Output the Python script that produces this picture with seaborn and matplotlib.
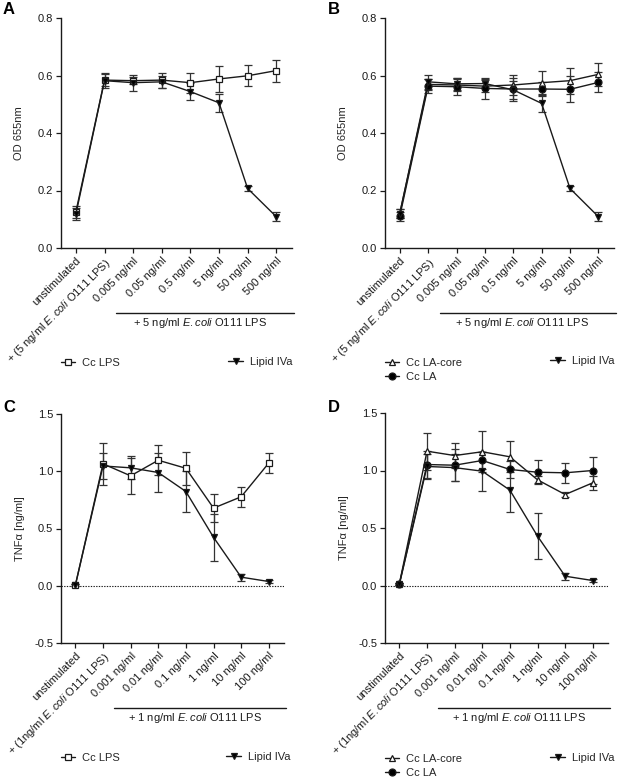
import matplotlib
matplotlib.use('Agg')

import numpy as np
import pandas as pd
import matplotlib.pyplot as plt
import seaborn as sns
from matplotlib.lines import Line2D

sns.set_theme(style='ticks')
plt.rcParams['font.family'] = ['Liberation Sans', 'DejaVu Sans']
plt.rcParams['mathtext.fontset'] = 'custom'
plt.rcParams['mathtext.rm'] = 'Liberation Sans'
plt.rcParams['mathtext.it'] = 'Liberation Sans:italic'

# x categories
labels_top = ['unstimulated', '+ (5 ng/ml $\\it{E.coli}$ O111 LPS)', '0.005 ng/ml', '0.05 ng/ml',
              '0.5 ng/ml', '5 ng/ml', '50 ng/ml', '500 ng/ml']
labels_bottom = ['unstimulated', '+ (1ng/ml $\\it{E.coli}$ O111 LPS)', '0.001 ng/ml', '0.01 ng/ml',
                 '0.1 ng/ml', '1 ng/ml', '10 ng/ml', '100 ng/ml']

# panel A - OD 655nm
cc_lps_od = [0.126, 0.584, 0.582, 0.584, 0.575, 0.588, 0.599, 0.617]
cc_lps_od_err = [0.02, 0.02, 0.012, 0.026, 0.035, 0.045, 0.037, 0.038]
lipid_od = [0.118, 0.582, 0.575, 0.578, 0.544, 0.505, 0.207, 0.109]
lipid_od_err = [0.02, 0.025, 0.028, 0.02, 0.03, 0.032, 0.01, 0.015]

# panel B - OD 655nm
la_core_od = [0.12, 0.569, 0.567, 0.563, 0.567, 0.575, 0.582, 0.604]
la_core_od_err = [0.015, 0.02, 0.02, 0.02, 0.035, 0.04, 0.045, 0.04]
la_od = [0.11, 0.563, 0.561, 0.555, 0.553, 0.553, 0.552, 0.576]
la_od_err = [0.015, 0.025, 0.03, 0.035, 0.04, 0.025, 0.045, 0.035]
lipid_od_b = [0.12, 0.578, 0.571, 0.572, 0.55, 0.503, 0.207, 0.109]
lipid_od_b_err = [0.015, 0.025, 0.02, 0.015, 0.03, 0.03, 0.01, 0.015]

# panel C - TNFa
cc_lps_tnf = [0.005, 1.065, 0.96, 1.096, 1.026, 0.678, 0.777, 1.072]
cc_lps_tnf_err = [0.01, 0.185, 0.16, 0.13, 0.145, 0.12, 0.087, 0.09]
lipid_tnf = [0.005, 1.046, 1.03, 0.989, 0.823, 0.423, 0.075, 0.037]
lipid_tnf_err = [0.01, 0.11, 0.1, 0.17, 0.18, 0.205, 0.03, 0.01]

# panel D - TNFa
la_core_tnf = [0.015, 1.168, 1.13, 1.163, 1.119, 0.919, 0.791, 0.893]
la_core_tnf_err = [0.01, 0.16, 0.11, 0.18, 0.135, 0.03, 0.02, 0.06]
la_tnf = [0.015, 1.052, 1.046, 1.087, 1.009, 0.985, 0.98, 1.0]
la_tnf_err = [0.01, 0.12, 0.14, 0.07, 0.07, 0.105, 0.085, 0.12]
lipid_tnf_d = [0.01, 1.035, 1.025, 0.994, 0.829, 0.429, 0.081, 0.043]
lipid_tnf_d_err = [0.01, 0.11, 0.12, 0.17, 0.19, 0.2, 0.03, 0.01]

STYLES = {
    'Cc LPS': dict(marker='s', markerfacecolor='white', markersize=5),
    'Cc LA-core': dict(marker='^', markerfacecolor='white', markersize=5),
    'Cc LA': dict(marker='o', markerfacecolor='black', markersize=5),
    'Lipid IVa': dict(marker='v', markerfacecolor='black', markersize=4.5),
}
INK = '#1a1a1a'

W, H = 619, 781
fig = plt.figure(figsize=(W / 100, H / 100), dpi=100)


def px_axes(left, top, right, bottom):
    return fig.add_axes([left / W, 1 - bottom / H, (right - left) / W, (bottom - top) / H])


def draw_series(ax, name, y, err):
    x = np.arange(len(y))
    ax.errorbar(x, y, yerr=err, fmt='none', ecolor='#333333', elinewidth=0.9,
                capsize=2.6, capthick=0.9, zorder=2)
    df = pd.DataFrame({'x': x, 'y': y})
    sns.lineplot(data=df, x='x', y='y', ax=ax, color=INK, linewidth=1.0,
                 markeredgecolor=INK, markeredgewidth=0.9, zorder=3, **STYLES[name])


def style_axes(ax, labels, ylim, yticks, ylabel, group_text):
    ax.set_xlim(-0.52, len(labels) - 0.45)
    ax.set_ylim(*ylim)
    ax.set_yticks(yticks)
    ax.set_yticklabels([f'{t:.1f}' for t in yticks], fontsize=8)
    ax.set_xticks(np.arange(len(labels)))
    ax.set_xticklabels(labels, fontsize=8, rotation=45, ha='right', rotation_mode='anchor')
    ax.set_xlabel('')
    ax.set_ylabel(ylabel, fontsize=8)
    ax.yaxis.set_label_coords(-0.16, 0.5)
    for s in ['top', 'right']:
        ax.spines[s].set_visible(False)
    for s in ['left', 'bottom']:
        ax.spines[s].set_color(INK)
        ax.spines[s].set_linewidth(1.0)
    ax.tick_params(axis='both', direction='out', length=3.5, width=0.9, color=INK, pad=2,
                   labelcolor=INK)
    ax.plot([0.238, 1.01], [-0.282, -0.282], transform=ax.transAxes, color=INK,
            linewidth=1.0, clip_on=False)
    ax.text(0.6, -0.327, group_text, transform=ax.transAxes, ha='center', va='center',
            fontsize=8, color=INK)


def handle(name):
    return Line2D([], [], color=INK, linewidth=1.0, markeredgecolor=INK,
                  markeredgewidth=0.9, label=name, **STYLES[name])


def add_legends(ax, left_names, left_x, left_y, right_x, right_y):
    common = dict(frameon=False, fontsize=8, borderpad=0, borderaxespad=0,
                  handlelength=1.3, handletextpad=0.6, labelspacing=0.3,
                  bbox_transform=fig.transFigure)
    leg1 = ax.legend(handles=[handle(n) for n in left_names], loc='center left',
                     bbox_to_anchor=(left_x / W, 1 - left_y / H), **common)
    ax.add_artist(leg1)
    ax.legend(handles=[handle('Lipid IVa')], loc='center right',
              bbox_to_anchor=(right_x / W, 1 - right_y / H), **common)


# A
axA = px_axes(61, 18, 292, 248)
draw_series(axA, 'Cc LPS', cc_lps_od, cc_lps_od_err)
draw_series(axA, 'Lipid IVa', lipid_od, lipid_od_err)
style_axes(axA, labels_top, (0, 0.8), [0.0, 0.2, 0.4, 0.6, 0.8], 'OD 655nm',
           '+ 5 ng/ml $\\it{E.coli}$ O111 LPS')
add_legends(axA, ['Cc LPS'], 61, 363, 292, 362)

# B
axB = px_axes(385, 18, 614, 248)
draw_series(axB, 'Cc LA-core', la_core_od, la_core_od_err)
draw_series(axB, 'Cc LA', la_od, la_od_err)
draw_series(axB, 'Lipid IVa', lipid_od_b, lipid_od_b_err)
style_axes(axB, labels_top, (0, 0.8), [0.0, 0.2, 0.4, 0.6, 0.8], 'OD 655nm',
           '+ 5 ng/ml $\\it{E.coli}$ O111 LPS')
add_legends(axB, ['Cc LA-core', 'Cc LA'], 385, 370, 614, 361)

# C
axC = px_axes(61, 414, 284, 643)
axC.axhline(0, color=INK, linestyle=(0, (1.2, 1.2)), linewidth=0.8, zorder=1)
draw_series(axC, 'Cc LPS', cc_lps_tnf, cc_lps_tnf_err)
draw_series(axC, 'Lipid IVa', lipid_tnf, lipid_tnf_err)
style_axes(axC, labels_bottom, (-0.5, 1.5), [-0.5, 0.0, 0.5, 1.0, 1.5], 'TNFα [ng/ml]',
           '+ 1 ng/ml $\\it{E.coli}$ O111 LPS')
add_legends(axC, ['Cc LPS'], 61, 758, 290, 757)

# D
axD = px_axes(385, 413, 608, 643)
axD.axhline(0, color=INK, linestyle=(0, (1.2, 1.2)), linewidth=0.8, zorder=1)
draw_series(axD, 'Cc LA-core', la_core_tnf, la_core_tnf_err)
draw_series(axD, 'Cc LA', la_tnf, la_tnf_err)
draw_series(axD, 'Lipid IVa', lipid_tnf_d, lipid_tnf_d_err)
style_axes(axD, labels_bottom, (-0.5, 1.5), [-0.5, 0.0, 0.5, 1.0, 1.5], 'TNFα [ng/ml]',
           '+ 1 ng/ml $\\it{E.coli}$ O111 LPS')
add_legends(axD, ['Cc LA-core', 'Cc LA'], 385, 766, 614, 758)

for letter, x, y in [('A', 3, 9), ('B', 328, 9), ('C', 3, 407), ('D', 328, 407)]:
    fig.text(x / W, 1 - y / H, letter, fontsize=12, fontweight='bold', ha='left',
             va='center', color='black')

fig.savefig('out.png', dpi=100)
